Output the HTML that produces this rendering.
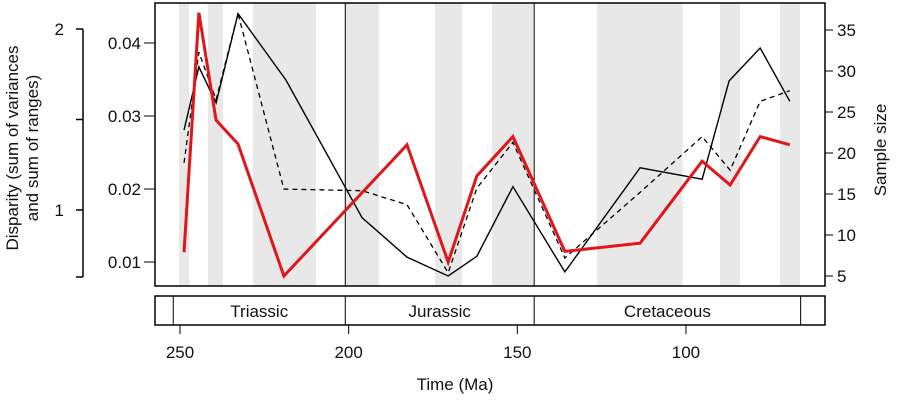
<!DOCTYPE html>
<html><head><meta charset="utf-8"><style>
body{margin:0;background:#fff}
svg text{font-family:"Liberation Sans",sans-serif;fill:#111}
</style></head><body>
<svg id="c" width="900" height="400" xmlns="http://www.w3.org/2000/svg"></svg>
<script>
const bandStarts=[250.3,241.7,228.4,201,174.4,157.5,126.4,89.9,72.1];
const bandEnds=[247.3,237.3,209.7,191,166.4,145.3,101,84,66.2];
const times=[248.8,244.4,239.3,232.8,219.2,182.7,170.5,162.0,151.3,135.9,113.6,95.2,86.9,78.0,69.2];
const redVals=[7.9,37.1,24.0,21.1,5.0,21.0,6.7,17.2,22.0,8.0,9.0,19.0,16.1,22.0,21.0];
const solidTimes=[248.8,244.4,239.3,232.8,218.6,196.0,182.7,170.5,162.0,151.3,135.9,113.6,95.2,87.2,78.0,69.2];
const solidVals=[22.8,30.5,26.1,37.0,28.9,12.1,7.3,5.0,7.4,15.9,5.5,18.2,16.8,28.8,32.8,26.3];
const dashTimes=[248.8,244.4,239.3,232.8,219.2,196.0,182.7,170.5,162.0,151.3,135.9,113.6,95.2,86.9,78.0,69.2];
const dashVals=[18.8,32.3,26.5,37.0,15.6,15.4,13.7,5.4,15.7,21.3,7.2,15.2,22.0,17.9,26.3,27.6];
const timeTicks=[250,200,150,100];
const sampleTicks=[5,10,15,20,25,30,35];
const innerTicks=[0.01,0.02,0.03,0.04];
const outerTicks=[1,1.5,2];
const outerLabels=["1","","2"];
const periods=["Triassic","Jurassic","Cretaceous"];
const periodStart=[252,201,145];
const periodEnd=[201,145,66];

const svg=document.getElementById('c');
const NS='http://www.w3.org/2000/svg';
const X=t=>180+(250-t)*3.373;
const Y=s=>276-(s-5)*8.2;
const YI=v=>262-(v-0.01)*7300;
const YO=v=>210-(v-1)*181;
function mk(tag,a,name,txt){const e=document.createElementNS(NS,tag);for(const k in a)e.setAttribute(k,a[k]);


if(txt!==undefined)e.textContent=txt;svg.appendChild(e);return e;}
const L=155,R=825,T=3,B=286,FS=17;
bandStarts.forEach((s,i)=>{mk('rect',{x:X(s),y:T,width:X(bandEnds[i])-X(s),height:B-T,fill:'#e8e8e8'},'grey-band');});
mk('line',{x1:X(201),x2:X(201),y1:T,y2:B,stroke:'#000','stroke-width':1},'boundary-line');
mk('line',{x1:X(145),x2:X(145),y1:T,y2:B,stroke:'#000','stroke-width':1},'boundary-line');
function line(ts,vs,attrs,name){mk('polyline',Object.assign({points:ts.map((t,i)=>X(t)+','+Y(vs[i])).join(' '),fill:'none'},attrs),name);}
line(dashTimes,dashVals,{stroke:'#000','stroke-width':1.3,'stroke-dasharray':'5,4'},'dashed-series');
line(solidTimes,solidVals,{stroke:'#000','stroke-width':1.4},'solid-series');
line(times,redVals,{stroke:'#e0161b','stroke-width':3,'stroke-linejoin':'miter'},'red-series');
mk('rect',{x:L,y:T,width:R-L,height:B-T,fill:'none',stroke:'#000','stroke-width':1.5},'plot-frame');
sampleTicks.forEach(s=>{mk('line',{x1:R,x2:R+8,y1:Y(s),y2:Y(s),stroke:'#000'},'right-tick');
mk('text',{x:R+12,y:Y(s)+6,'font-size':FS},'right-tick-label',s);});
mk('text',{x:0,y:0,'font-size':FS,'text-anchor':'middle',transform:'translate(886,150) rotate(-90)'},'right-axis-title','Sample size');
innerTicks.forEach(v=>{mk('line',{x1:L-11,x2:L,y1:YI(v),y2:YI(v),stroke:'#000'},'inner-tick');
mk('text',{x:L-14,y:YI(v)+6,'font-size':FS,'text-anchor':'end'},'inner-tick-label',v.toFixed(2));});
mk('line',{x1:83,x2:83,y1:YO(2),y2:277,stroke:'#000','stroke-width':1.5},'outer-axis-line');
mk('line',{x1:76,x2:83,y1:277,y2:277,stroke:'#000','stroke-width':1.5},'outer-axis-end');
outerTicks.forEach((v,i)=>{mk('line',{x1:76,x2:83,y1:YO(v),y2:YO(v),stroke:'#000','stroke-width':1.5},'outer-tick');
if(outerLabels[i])mk('text',{x:64,y:YO(v)+6,'font-size':FS,'text-anchor':'end'},'outer-tick-label',outerLabels[i]);});
mk('text',{x:0,y:0,'font-size':FS,'text-anchor':'middle',transform:'translate(18,148) rotate(-90)'},'left-axis-title','Disparity (sum of variances');
mk('text',{x:0,y:0,'font-size':FS,'text-anchor':'middle',transform:'translate(38,148) rotate(-90)'},'left-axis-title-2','and sum of ranges)');
mk('rect',{x:L,y:296,width:R-L,height:29,fill:'none',stroke:'#000','stroke-width':1.5},'period-bar');
periods.forEach((p,i)=>{mk('line',{x1:X(periodStart[i]),x2:X(periodStart[i]),y1:296,y2:325,stroke:'#000'},'period-divider');
mk('text',{x:(X(periodStart[i])+X(periodEnd[i]))/2,y:317,'font-size':FS,'text-anchor':'middle'},'period-label',p);});
mk('line',{x1:X(66),x2:X(66),y1:296,y2:325,stroke:'#000'},'period-divider');
timeTicks.forEach(t=>{mk('line',{x1:X(t),x2:X(t),y1:325,y2:334,stroke:'#000'},'x-tick');
mk('text',{x:X(t),y:358,'font-size':FS,'text-anchor':'middle'},'x-tick-label',t);});
mk('text',{x:455,y:390,'font-size':FS,'text-anchor':'middle'},'x-axis-title','Time (Ma)');
</script>
</body></html>
